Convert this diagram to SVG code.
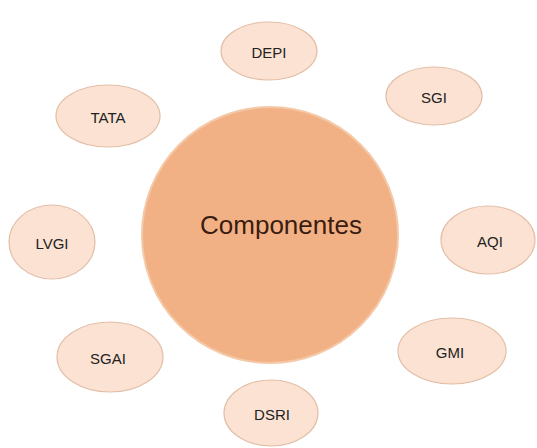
<svg xmlns="http://www.w3.org/2000/svg" width="537" height="448" viewBox="0 0 537 448">
<style>
.sat ellipse{fill:#fbe2d3;stroke:#e2bfa8;stroke-width:1.2}
.sat text{font-family:"Liberation Sans",Arial,sans-serif;font-size:15px;fill:#222222;text-anchor:middle;dominant-baseline:central}
.hub circle{fill:#f2b184;stroke:#f4c9a8;stroke-width:2}
.hub text{font-family:"Liberation Sans",Arial,sans-serif;font-size:26px;fill:#3a1c10;text-anchor:middle;dominant-baseline:central}
</style>
<rect width="537" height="448" fill="#ffffff"/>
<g id="connectors"></g>
<g id="hub" class="hub"><circle cx="270" cy="235" r="128"/><text x="281" y="225">Componentes</text></g>
<g id="depi" class="sat"><ellipse cx="269" cy="51" rx="48" ry="29"/><text x="269" y="52">DEPI</text></g>
<g id="sgi" class="sat"><ellipse cx="434" cy="96" rx="48" ry="29"/><text x="434" y="97">SGI</text></g>
<g id="tata" class="sat"><ellipse cx="108" cy="116" rx="52" ry="31"/><text x="108" y="117">TATA</text></g>
<g id="aqi" class="sat"><ellipse cx="488" cy="240" rx="47" ry="34"/><text x="490" y="241">AQI</text></g>
<g id="lvgi" class="sat"><ellipse cx="52" cy="242" rx="43" ry="37"/><text x="52" y="243">LVGI</text></g>
<g id="gmi" class="sat"><ellipse cx="452" cy="351" rx="54" ry="33"/><text x="450" y="352">GMI</text></g>
<g id="sgai" class="sat"><ellipse cx="110" cy="357" rx="53" ry="35"/><text x="108" y="358">SGAI</text></g>
<g id="dsri" class="sat"><ellipse cx="271" cy="413" rx="47" ry="33"/><text x="272" y="414">DSRI</text></g>
</svg>
